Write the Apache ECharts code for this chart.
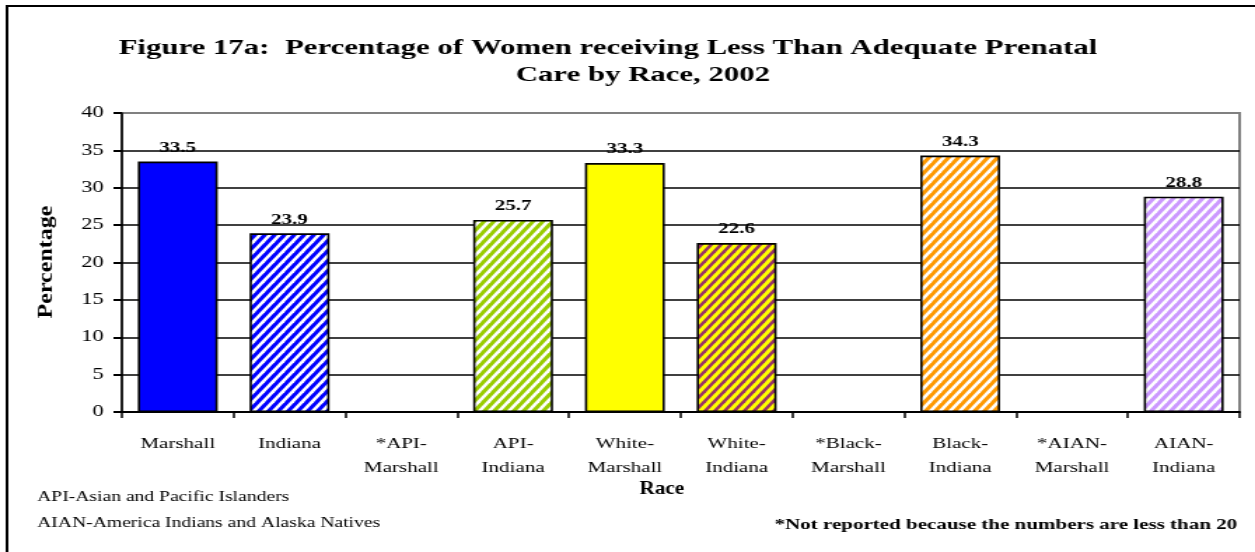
<!DOCTYPE html>
<html>
<head>
<meta charset="utf-8">
<script src="https://cdn.jsdelivr.net/npm/echarts@6/dist/echarts.min.js"></script>
<style>
  html, body { margin: 0; padding: 0; background: #fff; overflow: hidden; }
  /* the original chart is stretched sideways, so draw narrow and widen it */
  #chart { width: 896px; height: 552px; transform: scaleX(1.4007); transform-origin: 0 0; }
</style>
</head>
<body>
<div id="chart"></div>
<script>
var categories = ["Marshall", "Indiana", "*API-\nMarshall", "API-\nIndiana", "White-\nMarshall",
  "White-\nIndiana", "*Black-\nMarshall", "Black-\nIndiana", "*AIAN-\nMarshall", "AIAN-\nIndiana"];
var values = [33.5, 23.9, null, 25.7, 33.3, 22.6, null, 34.3, null, 28.8];
var yTicks = [0, 40, 5];

var serif = '"Liberation Serif", "Times New Roman", serif';

// striped fill on a small tile (narrow, so the stripes end up at 45deg after stretching)
function stripes(bg, fg) {
  var w = 7, h = 10;
  var c = document.createElement("canvas");
  c.width = w; c.height = h;
  var ctx = c.getContext("2d");
  ctx.fillStyle = bg;
  ctx.fillRect(0, 0, w, h);
  ctx.strokeStyle = fg;
  ctx.lineWidth = 2.6;
  [-1, 0, 1].forEach(function (k) {
    ctx.beginPath();
    ctx.moveTo(k * w - w * 0.1, h * 1.1);
    ctx.lineTo(k * w + w * 1.1, -h * 0.1);
    ctx.stroke();
  });
  return { image: c, repeat: "repeat" };
}

var fills = [
  "#0000ff",
  stripes("#0000ff", "#ffffff"),
  "#ffffff",
  stripes("#99cc00", "#ffffff"),
  "#ffff00",
  stripes("#ffff00", "#993366"),
  "#ffffff",
  stripes("#ff9900", "#ffffff"),
  "#ffffff",
  stripes("#cc99ff", "#ffffff")
];

var chart = echarts.init(document.getElementById("chart"));

var option = {
  animation: false,
  title: [
    {
      text: "Figure 17a:  Percentage of Women receiving Less Than Adequate Prenatal",
      left: 429, top: 32, textAlign: "center",
      textStyle: { fontFamily: serif, fontWeight: "bold", fontSize: 22, color: "#000" }
    },
    {
      text: "Care by Race, 2002",
      left: 454, top: 59, textAlign: "center",
      textStyle: { fontFamily: serif, fontWeight: "bold", fontSize: 22, color: "#000" }
    }
  ],
  grid: {
    left: 87, right: 11, top: 113, bottom: 140,
    show: true, borderColor: "#808080", borderWidth: 2
  },
  xAxis: {
    type: "category",
    data: categories,
    axisLine: { lineStyle: { color: "#000", width: 2 } },
    axisTick: { show: true, length: 6, lineStyle: { color: "#000", width: 1.5 } },
    axisLabel: {
      margin: 20, fontFamily: serif, fontSize: 15, color: "#000", lineHeight: 24,
      interval: 0
    }
  },
  yAxis: {
    type: "value",
    min: yTicks[0], max: yTicks[1], interval: yTicks[2],
    axisLine: { show: true, lineStyle: { color: "#000", width: 1.5 } },
    axisTick: { show: true, length: 6, lineStyle: { color: "#000", width: 2 } },
    axisLabel: { margin: 13, fontFamily: serif, fontSize: 16, color: "#000" },
    splitLine: { show: true, showMaxLine: false, lineStyle: { color: "#000", width: 1.5 } }
  },
  series: [
    {
      type: "bar",
      barWidth: 57,
      data: values.map(function (v, i) {
        return { value: v, itemStyle: { color: fills[i] } };
      }),
      itemStyle: { borderColor: "#000", borderWidth: 1.6 },
      label: {
        show: true, position: "top", distance: 6,
        fontFamily: serif, fontWeight: "bold", fontSize: 15, color: "#000"
      }
    }
  ],
  graphic: [
    {
      type: "rect", silent: true,
      shape: { x: 5, y: 6, width: 910, height: 570 },
      style: { fill: null, stroke: "#000", lineWidth: 2 }
    },
    {
      type: "text", x: 33, y: 262, rotation: Math.PI / 2, scaleX: 1.5, scaleY: 0.9,
      style: {
        text: "Percentage", font: "bold 16px " + serif, fill: "#000",
        align: "center", verticalAlign: "middle"
      }
    },
    {
      type: "text", x: 472.5, y: 489, scaleX: 0.8,
      style: {
        text: "Race", font: "bold 19px " + serif, fill: "#000",
        align: "center", verticalAlign: "middle"
      }
    },
    {
      type: "text", left: 26.5, top: 490,
      style: { text: "API-Asian and Pacific Islanders", font: "14px " + serif, fill: "#000" }
    },
    {
      type: "text", left: 26.5, top: 516,
      style: { text: "AIAN-America Indians and Alaska Natives", font: "14px " + serif, fill: "#000" }
    },
    {
      type: "text", left: 553, top: 518,
      style: { text: "*Not reported because the numbers are less than 20", font: "bold 15px " + serif, fill: "#000" }
    }
  ]
};

chart.setOption(option);
</script>
</body>
</html>
